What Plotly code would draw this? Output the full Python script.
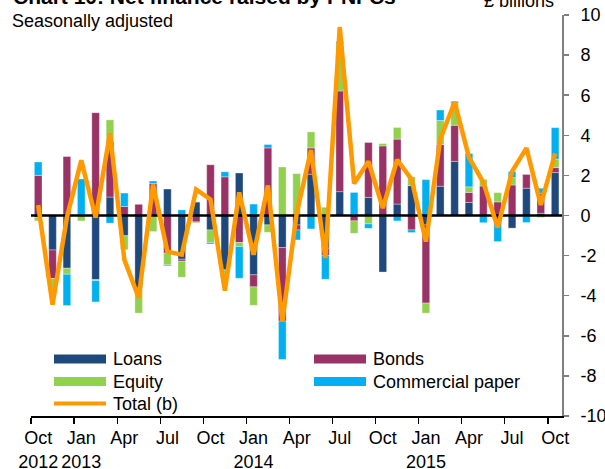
import pandas as pd
import plotly.graph_objects as go

# ---------------- data (GBP billions, seasonally adjusted) ----------------
months = pd.date_range("2012-10-01", periods=37, freq="MS")

loans = [-0.10, -1.72, -2.63, 0.00, -3.20, 0.92, -1.01, -3.62, 0.00, 1.32,
         -2.18, 0.68, -0.72, -2.71, 2.12, -2.96, -0.47, -1.60, -0.47, 2.06,
         -1.63, 1.19, 0.00, 0.90, -2.82, 0.57, 1.49, -0.47, 1.46, 2.70,
         0.65, 0.00, -0.20, -0.63, 1.36, 0.11, 2.14]
bonds = [2.00, -1.42, 2.94, 0.00, 5.13, 2.77, 0.45, 0.57, 1.60, -1.88,
         -0.10, -0.32, 2.53, 1.93, -1.35, -0.60, 3.37, -3.67, -0.25, 1.31,
         -0.37, 5.02, -0.27, 2.74, 3.47, 3.24, -0.72, -3.90, 2.08, 1.80,
         0.50, 1.47, 0.68, 1.52, 0.70, 1.00, 0.25]
equity = [-0.17, -0.55, -0.30, -0.27, -0.05, 1.08, -0.70, -1.25, -0.80, -0.58,
          -0.80, -0.05, -0.63, -0.33, -0.20, -0.92, -0.37, 2.42, 2.09, 0.80,
          0.41, 2.36, -0.62, -0.42, 0.13, 0.58, 0.44, -0.50, 1.20, 1.11,
          0.28, 0.33, 0.46, 0.37, 0.00, -0.10, 0.42]
cp = [0.67, 0.00, -1.56, 1.82, -1.06, -0.38, 0.67, 0.00, 0.12, -0.05,
      0.28, 0.00, -0.07, 0.25, -1.58, 0.57, 0.17, -1.91, -0.50, -0.67,
      -1.18, 0.10, 1.15, -0.22, 0.00, -0.27, -0.13, 1.79, 0.52, 0.08,
      1.66, -0.36, -1.10, 0.30, -0.35, 0.25, 1.57]
total = [0.52, -4.45, -0.10, 2.75, -0.10, 4.10, -2.20, -4.10, 1.55, -1.80,
         -1.95, 1.30, 0.80, -3.75, 1.15, -1.96, 1.50, -5.30, 0.10, 3.27,
         -2.12, 9.40, 1.60, 2.70, 0.37, 2.78, 1.80, -1.30, 3.80, 5.66,
         2.90, 1.65, -0.60, 2.20, 3.36, 0.53, 3.10]

tick_text = ["Oct<br>2012", "Jan<br>2013", "Apr", "Jul", "Oct", "Jan<br>2014",
             "Apr", "Jul", "Oct", "Jan<br>2015", "Apr", "Jul", "Oct"]
y_ticks = list(range(-10, 11, 2))
y_tick_text = [str(v) for v in y_ticks]

series_names = ["Loans", "Bonds", "Equity", "Commercial paper"]
series_colors = ["#1F497D", "#993366", "#92D050", "#00B0F0"]
total_name = "Total (b)"
total_color = "#FF9900"

# ---------------- layout geometry ----------------
W, H = 605, 469
L, R, T, B = 31, 43, 15, 53
PW, PH = W - L - R, H - T - B
month_px = 14.36
x_pos = list(range(len(months)))
XRANGE = [-0.5, -0.5 + PW / month_px]
FONT = "Liberation Sans, Arial, sans-serif"


def px_x(px):
    return (px - L) / PW


def px_y(py):
    return (H - B - py) / PH


fig = go.Figure()
for name, vals, col in zip(series_names, [loans, bonds, equity, cp], series_colors):
    fig.add_trace(go.Bar(x=x_pos, y=vals, name=name, width=0.53,
                         marker=dict(color=col, line=dict(width=0.6, color="rgba(255,255,255,0.55)")),
                         showlegend=False))

# zero reference line (between bars and total line)
fig.add_trace(go.Scatter(x=XRANGE, y=[0, 0], mode="lines",
                         line=dict(color="black", width=2.5),
                         hoverinfo="skip", showlegend=False))
fig.add_trace(go.Scatter(x=x_pos, y=total, mode="lines", name=total_name,
                         line=dict(color=total_color, width=4.5),
                         showlegend=False))

fig.update_layout(
    width=W, height=H,
    margin=dict(l=L, r=R, t=T, b=B, autoexpand=False),
    barmode="relative",
    plot_bgcolor="white", paper_bgcolor="white",
    font=dict(family=FONT, size=18, color="black"),
    showlegend=False,
    xaxis=dict(range=XRANGE, showgrid=False, zeroline=False, automargin=False,
               showline=True, linecolor="black", linewidth=1.5,
               tickmode="array", tickvals=x_pos[::3], ticktext=tick_text,
               ticks="", ticklabelstandoff=5,
               minor=dict(tickmode="array",
                          tickvals=[p - 0.5 for p in x_pos[::3]],
                          ticks="outside", ticklen=6, tickcolor="black", tickwidth=1.2),
               tickfont=dict(size=18)),
    yaxis=dict(range=[-10, 10], side="right", showgrid=False, zeroline=False, automargin=False,
               showline=True, linecolor="#808080", linewidth=2,
               tickmode="array", tickvals=y_ticks, ticktext=y_tick_text,
               ticks="outside", ticklen=5, tickcolor="#808080", tickwidth=1.5,
               ticklabelstandoff=8, tickfont=dict(size=18)),
)

ann = []
ann.append(dict(text="<b>Chart 10: Net finance raised by PNFCs</b>", x=px_x(11), y=px_y(-3),
                xref="paper", yref="paper", xanchor="left", yanchor="middle",
                showarrow=False, font=dict(size=21)))
ann.append(dict(text="Seasonally adjusted", x=px_x(10), y=px_y(21),
                xref="paper", yref="paper", xanchor="left", yanchor="middle",
                showarrow=False, font=dict(size=18)))
ann.append(dict(text="£ billions", x=px_x(482), y=px_y(1),
                xref="paper", yref="paper", xanchor="left", yanchor="middle",
                showarrow=False, font=dict(size=18)))

# manual legend
shapes = []
legend_items = [
    (series_names[0], series_colors[0], 54, 359, "bar"),
    (series_names[1], series_colors[1], 314, 359, "bar"),
    (series_names[2], series_colors[2], 54, 381.5, "bar"),
    (series_names[3], series_colors[3], 314, 381.5, "bar"),
    (total_name, total_color, 54, 403.5, "line"),
]
for name, col, x0, yc, kind in legend_items:
    if kind == "bar":
        shapes.append(dict(type="rect", xref="paper", yref="paper",
                           x0=px_x(x0), x1=px_x(x0 + 52), y0=px_y(yc + 4.5), y1=px_y(yc - 4.5),
                           fillcolor=col, line=dict(width=0)))
    else:
        shapes.append(dict(type="line", xref="paper", yref="paper",
                           x0=px_x(x0), x1=px_x(x0 + 52), y0=px_y(yc), y1=px_y(yc),
                           line=dict(color=col, width=4)))
    ann.append(dict(text=name, x=px_x(x0 + 57), y=px_y(yc), xref="paper", yref="paper",
                    xanchor="left", yanchor="middle", showarrow=False, font=dict(size=18)))

fig.update_layout(annotations=ann, shapes=shapes)
fig.write_html("out.html",
               config={"displayModeBar": False, "staticPlot": True},
               post_script="document.body.style.margin='0';document.body.style.overflow='hidden';")
